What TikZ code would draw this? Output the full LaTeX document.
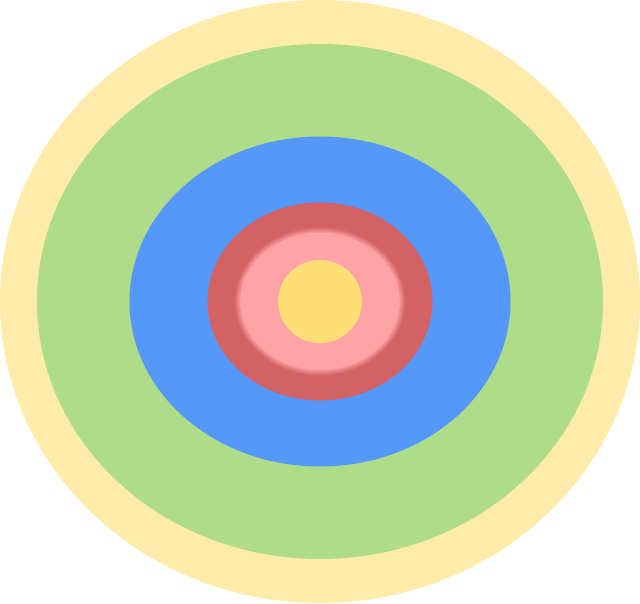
\documentclass[tikz,border=0pt]{standalone}
\usetikzlibrary{}
\definecolor{outery}{HTML}{FFEBAA}
\definecolor{greenr}{HTML}{AEDC88}
\definecolor{bluer}{HTML}{5598FA}
\definecolor{redr}{HTML}{D36264}
\definecolor{pinkr}{HTML}{FFA3A6}
\definecolor{innery}{HTML}{FFDD77}
\tikzset{ring/.style={fill=#1, draw=none}}
\begin{document}
\begin{tikzpicture}[x=1pt,y=1pt]
\useasboundingbox (0,0) rectangle (640,603);
\coordinate (c) at (320,301.5);
\fill[ring=outery] (c) ellipse [x radius=320, y radius=301.5];
\fill[ring=greenr] (c) ellipse [x radius=283, y radius=257.5];
\fill[ring=bluer] (c) ellipse [x radius=190.5, y radius=165];
\fill[ring=redr] (c) ellipse [x radius=112.5, y radius=99];
% soft edge of pink ring
\foreach \i in {0,...,5}{
  \pgfmathsetmacro{\mixp}{(\i+1)*100/7}
  \fill[ring=pinkr!\mixp!redr] (c) ellipse [x radius={85-\i}, y radius={74-\i}];
}
\fill[ring=pinkr] (c) ellipse [x radius=79.5, y radius=68.5];
\fill[ring=innery] (c) ellipse [x radius=42, y radius=41.5];
\end{tikzpicture}
\end{document}
